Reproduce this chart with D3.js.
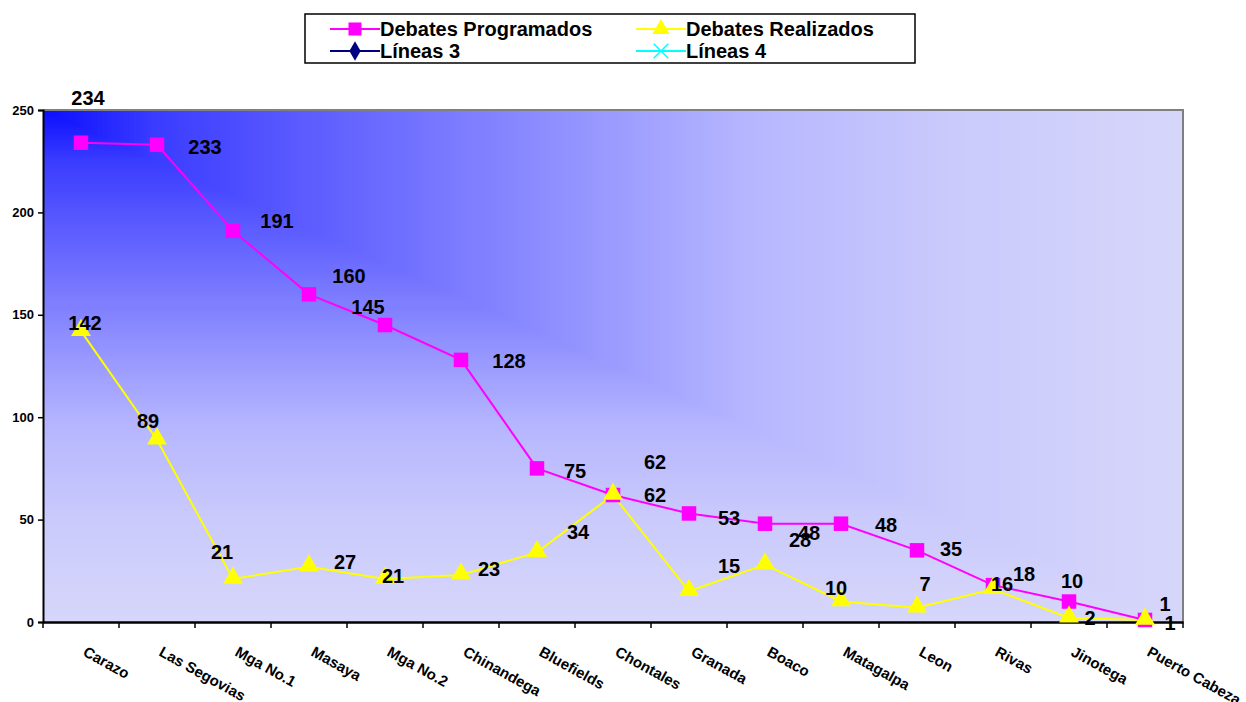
<!DOCTYPE html>
<html><head><meta charset="utf-8">
<script src="https://cdn.jsdelivr.net/npm/d3@7"></script>
<style>
html,body{margin:0;padding:0;background:#fff;}
text{font-family:"Liberation Sans",Arial,sans-serif;font-weight:bold;}
</style></head>
<body><svg id="c" width="1246" height="702"></svg>
<script>
const categories = ["Carazo","Las Segovias","Mga No.1","Masaya","Mga No.2","Chinandega","Bluefields","Chontales","Granada","Boaco","Matagalpa","Leon","Rivas","Jinotega","Puerto Cabeza"];
const programados = [234,233,191,160,145,128,75,62,53,48,48,35,18,10,1];
const realizados = [142,89,21,27,21,23,34,62,15,28,10,7,16,2,1];
const yTicks = [0,50,100,150,200,250];
const seriesNames = ["Debates Programados","Debates Realizados","Líneas 3","Líneas 4"];

// label placement offsets (layout only)
const progOff = [[7,-45],[48,2],[44,-10],[40,-18],[-17,-18],[48,1],[38,3],[42,-33],[40,5],[44,9],[45,1],[34,-1],[31,-11],[3,-21],[20,-16]];
const realOff = [[4,-8],[-9,-19],[-11,-27],[36,-5],[8,-3],[28,-6],[41,-20],[42,0],[40,-25],[35,-25],[-5,-14],[8,-24],[9,-5],[21,0],[25,3]];

const svg = d3.select("#c");
const L=43, R=1183, T=110, B=622;
const x = d3.scaleBand().domain(categories).range([L,R]);
const y = d3.scaleLinear().domain([0,250]).range([B,T]);
const cx = d => x(d)+x.bandwidth()/2;

// "from corner" background shading (nested rectangles from top-left corner)
const shade = d3.scaleLinear()
  .domain([0,0.1,0.225,0.45,0.62,0.8,1])
  .range(["#0a0cff","#3a3cff","#5a5aff","#8f8fff","#b6b6ff","#cacafc","#d6d6fb"])
  .interpolate(d3.interpolateRgb);
const steps = d3.range(1,0,-0.004);
svg.append("g").selectAll("rect").data(steps).join("rect")
  .attr("x",L).attr("y",T).attr("width",t=>(R-L)*t).attr("height",t=>(B-T)*t)
  .attr("fill",t=>shade(t)).attr("shape-rendering","crispEdges");

// grey top/right border
svg.append("path").attr("d",`M${L},${T}H${R}V${B}`).attr("fill","none").attr("stroke","#808080").attr("stroke-width",2);

// Y axis
const ya = svg.append("g").attr("transform",`translate(${L},0)`)
  .call(d3.axisLeft(y).tickValues(yTicks).tickSize(5).tickPadding(4));
ya.select(".domain").attr("stroke","#000").attr("stroke-width",2);
ya.selectAll(".tick line").attr("stroke","#000").attr("stroke-width",1.5);
ya.selectAll(".tick text").attr("font-size",13).attr("fill","#000").style("font-family","Liberation Sans, Arial").style("font-weight","bold");

// X axis
const xa = svg.append("g").attr("transform",`translate(0,${B})`)
  .call(d3.axisBottom(x).tickSize(0).tickFormat(""));
xa.select(".domain").attr("stroke","#000").attr("stroke-width",2.5);
xa.selectAll(".tick").remove();
const bounds = categories.map(c=>x(c)).concat([R]);
svg.append("g").selectAll("line").data(bounds).join("line")
  .attr("x1",d=>d).attr("x2",d=>d).attr("y1",B).attr("y2",B+6).attr("stroke","#000").attr("stroke-width",1.5);
svg.append("g").selectAll("text").data(categories).join("text")
  .attr("transform",d=>`translate(${cx(d)+1},${655}) rotate(29)`)
  .attr("font-size",15).attr("fill","#000").attr("text-anchor","start")
  .text(d=>d);

// lines
const line = d3.line().x((d,i)=>cx(categories[i])).y(d=>y(d));
svg.append("path").datum(realizados).attr("d",line).attr("fill","none").attr("stroke","#ffff00").attr("stroke-width",2);
svg.append("path").datum(programados).attr("d",line).attr("fill","none").attr("stroke","#ff00ff").attr("stroke-width",2);

const sq = d3.symbol().type(d3.symbolSquare).size(210);
const tri = d3.symbol().type(d3.symbolTriangle).size(170);
svg.append("g").selectAll("path").data(programados).join("path")
  .attr("transform",(d,i)=>`translate(${cx(categories[i])},${y(d)})`).attr("d",sq).attr("fill","#ff00ff");
svg.append("g").selectAll("path").data(realizados).join("path")
  .attr("transform",(d,i)=>`translate(${cx(categories[i])},${y(d)-1})`).attr("d",tri).attr("fill","#ffff00");

// data labels
svg.append("g").selectAll("text").data(realizados).join("text")
  .attr("x",(d,i)=>cx(categories[i])+realOff[i][0]).attr("y",(d,i)=>y(d)+realOff[i][1])
  .attr("text-anchor","middle").attr("dominant-baseline","central").attr("font-size",20).attr("fill","#000").text(d=>d);
svg.append("g").selectAll("text").data(programados).join("text")
  .attr("x",(d,i)=>cx(categories[i])+progOff[i][0]).attr("y",(d,i)=>y(d)+progOff[i][1])
  .attr("text-anchor","middle").attr("dominant-baseline","central").attr("font-size",20).attr("fill","#000").text(d=>d);

// legend
const lg = svg.append("g");
lg.append("rect").attr("x",305).attr("y",14).attr("width",610).attr("height",49).attr("fill","#fff").attr("stroke","#000").attr("stroke-width",1.5);
const items = [
  {name:seriesNames[0], color:"#ff00ff", sym:d3.symbolSquare, size:170, x:355, y:29},
  {name:seriesNames[1], color:"#ffff00", sym:d3.symbolTriangle, size:130, x:661, y:29},
  {name:seriesNames[2], color:"#000080", sym:d3.symbolDiamond, size:110, x:355, y:51},
  {name:seriesNames[3], color:"#00ffff", sym:d3.symbolX, size:140, x:661, y:51}
];
items.forEach(it=>{
  lg.append("line").attr("x1",it.x-25).attr("x2",it.x+25).attr("y1",it.y).attr("y2",it.y).attr("stroke",it.color).attr("stroke-width",2);
  const p = lg.append("path").attr("transform",`translate(${it.x},${it.y})`).attr("d",d3.symbol().type(it.sym).size(it.size)());
  if(it.sym===d3.symbolX) p.attr("fill","none").attr("stroke",it.color).attr("stroke-width",1.5);
  else p.attr("fill",it.color);
  lg.append("text").attr("x",it.x+25).attr("y",it.y).attr("dominant-baseline","central").attr("font-size",20).attr("fill","#000").text(it.name);
});
</script></body></html>
